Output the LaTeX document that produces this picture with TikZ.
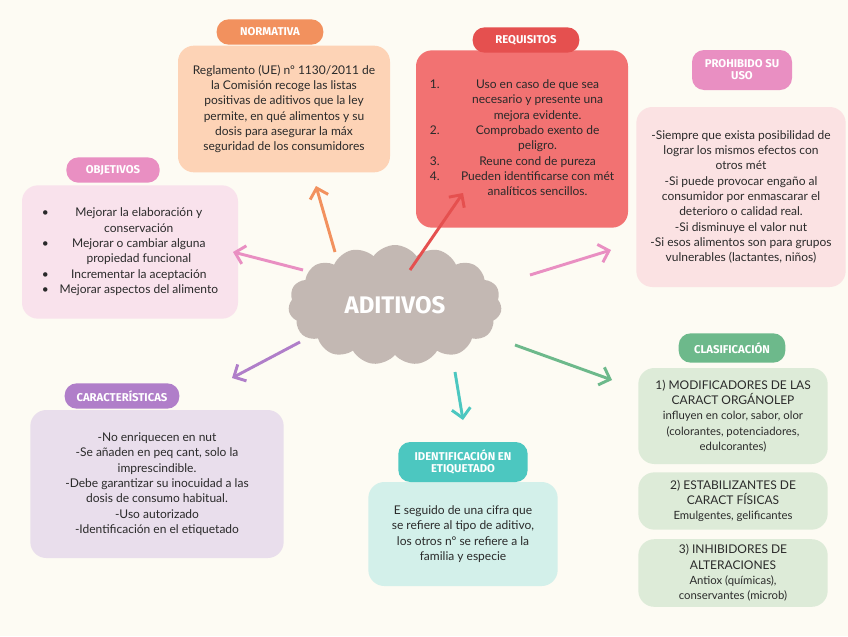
\documentclass[tikz,border=0pt]{standalone}
\usepackage{fontspec}
\setmainfont{Lato}
\newfontfamily\hdfont{Fira Sans}
\usetikzlibrary{shapes.symbols,arrows.meta}
\definecolor{bg}{HTML}{FDFBF3}
\definecolor{cOr}{HTML}{F2915E}\definecolor{cOrL}{HTML}{FDD3B6}
\definecolor{cRd}{HTML}{E5504F}\definecolor{cRdL}{HTML}{F27272}
\definecolor{cPk}{HTML}{E98FC2}\definecolor{cPkL}{HTML}{FBE2E3}\definecolor{cPkL2}{HTML}{F9E2EC}
\definecolor{cPu}{HTML}{B07EC9}\definecolor{cPuL}{HTML}{E9DEEC}
\definecolor{cTe}{HTML}{4CC7C0}\definecolor{cTeL}{HTML}{D3F0EA}
\definecolor{cGr}{HTML}{6DB98B}\definecolor{cGrL}{HTML}{DDEBD8}
\definecolor{cCl}{HTML}{C3B8B3}
\definecolor{txt}{HTML}{2A2A2A}
\tikzset{
 lbl/.style={rounded corners=9pt,text=white,font=\hdfont\bfseries\fontsize{8.5}{9}\selectfont,align=center,inner sep=3pt},
 body/.style={rounded corners=12pt,text=txt,font=\fontsize{9}{11.5}\selectfont,align=center,inner sep=4pt},
 arr/.style={line width=2.2pt,-{Straight Barb[length=7pt,width=14pt]}}
}
\begin{document}
\begin{tikzpicture}[x=0.75pt,y=-0.75pt]
\useasboundingbox[fill=bg] (0,0) rectangle (848,636);
% bodies
\node[body,fill=cOrL,minimum width=159pt,minimum height=95pt] (nb) at (284,109) {Reglamento (UE) nº 1130/2011 de\\la Comisión recoge las listas\\positivas de aditivos que la ley\\permite, en qué alimentos y su\\dosis para asegurar la máx\\seguridad de los consumidores};
\node[lbl,fill=cOr,minimum width=80pt,minimum height=19pt] (nl) at (270,32) {NORMATIVA};
\node[body,fill=cRdL,minimum width=159pt,minimum height=133pt,align=left] (rb) at (522,139) {%
\begin{tabular}{@{}r@{\hspace{16pt}}c@{}}
1.&Uso en caso de que sea\\&necesario y presente una\\&mejora evidente.\\
2.&Comprobado exento de\\&peligro.\\
3.&Reune cond de pureza\\
4.&Pueden identificarse con mét\\&analíticos sencillos.
\end{tabular}};
\node[lbl,fill=cRd,minimum width=80pt,minimum height=19pt] (rl) at (526,40) {REQUISITOS};
\node[body,fill=cPkL,minimum width=157pt,minimum height=135pt] (pb) at (741,197) {-Siempre que exista posibilidad de\\lograr los mismos efectos con\\otros mét\\-Si puede provocar engaño al\\consumidor por enmascarar el\\deterioro o calidad real.\\-Si disminuye el valor nut\\-Si esos alimentos son para grupos\\vulnerables (lactantes, niños)};
\node[lbl,fill=cPk,minimum width=75pt,minimum height=30pt] (pl) at (742,70) {PROHIBIDO SU\\USO};
\node[body,fill=cPkL2,minimum width=162pt,minimum height=100pt,align=left] (ob) at (130,252) {%
\begin{tabular}{@{}l@{\hspace{8pt}}c@{}}
\textbullet&Mejorar la elaboración y\\&conservación\\
\textbullet&Mejorar o cambiar alguna\\&propiedad funcional\\
\textbullet&Incrementar la aceptación\\
\textbullet&Mejorar aspectos del alimento
\end{tabular}};
\node[lbl,fill=cPk,minimum width=70pt,minimum height=19pt] (ol) at (113,170) {OBJETIVOS};
\node[body,fill=cPuL,minimum width=190pt,minimum height=111pt] (cb) at (157,484) {-No enriquecen en nut\\-Se añaden en peq cant, solo la\\imprescindible.\\-Debe garantizar su inocuidad a las\\dosis de consumo habitual.\\-Uso autorizado\\-Identificación en el etiquetado};
\node[lbl,fill=cPu,minimum width=86pt,minimum height=19pt] (cl) at (122,396) {CARACTERÍSTICAS};
\node[body,fill=cTeL,minimum width=142pt,minimum height=78pt] (ib) at (463,534) {E seguido de una cifra que\\se refiere al tipo de aditivo,\\los otros nº se refiere a la\\familia y especie};
\node[lbl,fill=cTe,minimum width=97pt,minimum height=30pt] (il) at (463,462) {IDENTIFICACIÓN EN\\ETIQUETADO};
\node[body,fill=cGrL,minimum width=142pt,minimum height=72pt] (g1) at (733,416) {1) MODIFICADORES DE LAS\\CARACT ORGÁNOLEP\\{\fontsize{8.5}{11}\selectfont influyen en color, sabor, olor}\\{\fontsize{8.5}{11}\selectfont (colorantes, potenciadores,}\\{\fontsize{8.5}{11}\selectfont edulcorantes)}};
\node[body,fill=cGrL,minimum width=142pt,minimum height=43pt] (g2) at (733,501) {2) ESTABILIZANTES DE\\CARACT FÍSICAS\\{\fontsize{8.5}{11}\selectfont Emulgentes, gelificantes}};
\node[body,fill=cGrL,minimum width=142pt,minimum height=50pt] (g3) at (733,573) {3) INHIBIDORES DE\\ALTERACIONES\\{\fontsize{8.5}{11}\selectfont Antiox (químicas),}\\{\fontsize{8.5}{11}\selectfont conservantes (microb)}};
\node[lbl,fill=cGr,minimum width=80pt,minimum height=22pt] (gl) at (732,348) {CLASIFICACIÓN};
% cloud
\node[cloud,cloud puffs=15,cloud puff arc=110,aspect=2,fill=cCl,minimum width=160pt,minimum height=90pt,text=white,font=\hdfont\bfseries\fontsize{18}{20}\selectfont] (c) at (395,305) {ADITIVOS};
% arrows
\coordinate (a1) at (335,252);\coordinate (e1) at (316,186);
\coordinate (a2) at (410,270);\coordinate (e2) at (463,193);
\coordinate (a3) at (530,275);\coordinate (e3) at (611,250);
\coordinate (a4) at (303,270);\coordinate (e4) at (233,252);
\coordinate (a5) at (300,342);\coordinate (e5) at (232,378);
\coordinate (a6) at (455,372);\coordinate (e6) at (463,420);
\coordinate (a7) at (515,345);\coordinate (e7) at (612,380);
\draw[arr,cOr] (a1) -- (e1);
\draw[arr,cRd] (a2) -- (e2);
\draw[arr,cPk] (a3) -- (e3);
\draw[arr,cPk] (a4) -- (e4);
\draw[arr,cPu] (a5) -- (e5);
\draw[arr,cTe] (a6) -- (e6);
\draw[arr,cGr] (a7) -- (e7);
\end{tikzpicture}
\end{document}
